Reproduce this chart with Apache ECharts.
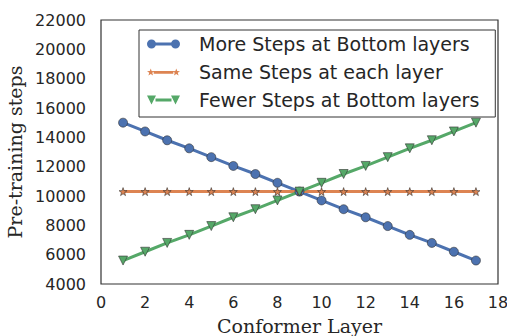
<!DOCTYPE html>
<html>
<head>
<meta charset="utf-8">
<script src="https://cdn.jsdelivr.net/npm/echarts@6/dist/echarts.min.js"></script>
<style>
  html, body { margin: 0; padding: 0; background: #fff; }
  #chart { width: 507px; height: 336px; }
</style>
</head>
<body>
<div id="chart"></div>
<script>
// layer index and pre-training steps per layer
var layers = [1, 2, 3, 4, 5, 6, 7, 8, 9, 10, 11, 12, 13, 14, 15, 16, 17];
var moreSteps = [15000, 14400, 13800, 13250, 12650, 12050, 11500, 10900, 10300, 9700, 9100, 8550, 7950, 7350, 6800, 6200, 5600];
var sameSteps = [10300, 10300, 10300, 10300, 10300, 10300, 10300, 10300, 10300, 10300, 10300, 10300, 10300, 10300, 10300, 10300, 10300];
var fewerSteps = [5600, 6200, 6800, 7350, 7950, 8550, 9100, 9700, 10300, 10900, 11500, 12050, 12650, 13250, 13800, 14400, 15000];
var seriesNames = ['More Steps at Bottom layers', 'Same Steps at each layer', 'Fewer Steps at Bottom layers'];

(function() {
  var ink = '#262626';
  var blue = '#4C72B0', orange = '#DD8452', green = '#55A868';
  var star = 'path://M50,0 L61.8,35.1 L97.6,34.5 L69.1,56.9 L79.4,90.5 L50,70 L20.6,90.5 L30.9,56.9 L2.4,34.5 L38.2,35.1 Z';

  // legend icons: marker at both ends of a short line, like matplotlib
  var bar = 'M9,3.6 L25,3.6 L25,6.4 L9,6.4 Z ';
  var iconCircle = 'path://M0.5,5 A4.5,4.5 0 1,1 9.5,5 A4.5,4.5 0 1,1 0.5,5 Z ' +
    'M24.5,5 A4.5,4.5 0 1,1 33.5,5 A4.5,4.5 0 1,1 24.5,5 Z ' + bar;
  var iconStar = 'path://M4,1 L4.94,3.71 L7.8,3.76 L5.52,5.49 L6.35,8.24 L4,6.6 L1.65,8.24 L2.48,5.49 L0.2,3.76 L3.06,3.71 Z ' +
    'M30,1 L30.94,3.71 L33.8,3.76 L31.52,5.49 L32.35,8.24 L30,6.6 L27.65,8.24 L28.48,5.49 L26.2,3.76 L29.06,3.71 Z ' +
    'M7,3.6 L27,3.6 L27,6.4 L7,6.4 Z';
  var iconTri = 'path://M0.5,0.5 L9.5,0.5 L5,9.5 Z M24.5,0.5 L33.5,0.5 L29,9.5 Z ' + bar;

  function pairs(ys) {
    return layers.map(function(x, i) { return [x, ys[i]]; });
  }

  function line(name, ys, color, symbol, size, rotate) {
    return {
      name: name,
      type: 'line',
      data: pairs(ys),
      symbol: symbol,
      symbolSize: size,
      symbolRotate: rotate || 0,
      showAllSymbol: true,
      lineStyle: { color: color, width: 3 },
      itemStyle: { color: color, borderColor: '#333', borderWidth: 0.6 },
      emphasis: { disabled: true }
    };
  }

  var chart = echarts.init(document.getElementById('chart'), null, { renderer: 'svg' });
  chart.setOption({
    animation: false,
    grid: {
      left: 101, right: 9, top: 20, bottom: 52,
      outerBoundsMode: 'none',
      show: true, borderColor: '#333', borderWidth: 1.2
    },
    legend: {
      orient: 'vertical',
      left: 139, top: 30,
      padding: [4, 16, 7, 8],
      itemGap: 8,
      itemWidth: 33, itemHeight: 10,
      borderColor: '#333', borderWidth: 1,
      backgroundColor: '#fff',
      itemStyle: { borderWidth: 0 },
      textStyle: { color: ink, fontSize: 19, lineHeight: 20, fontFamily: 'DejaVu Sans', padding: [0, 0, 0, 14] },
      data: [
        { name: seriesNames[0], icon: iconCircle },
        { name: seriesNames[1], icon: iconStar },
        { name: seriesNames[2], icon: iconTri }
      ]
    },
    xAxis: {
      type: 'value',
      min: 0, max: 18, interval: 2,
      name: 'Conformer Layer',
      nameLocation: 'middle',
      nameGap: 32,
      nameTextStyle: { color: ink, fontSize: 19, fontFamily: 'DejaVu Serif' },
      axisLine: { show: false },
      axisTick: { show: false },
      splitLine: { show: false },
      axisLabel: { color: ink, fontSize: 16, fontFamily: 'DejaVu Sans', margin: 10 }
    },
    yAxis: {
      type: 'value',
      min: 4000, max: 22000, interval: 2000,
      name: 'Pre-training steps',
      nameLocation: 'middle',
      nameGap: 69,
      nameTextStyle: { color: ink, fontSize: 19, fontFamily: 'DejaVu Serif' },
      axisLine: { show: false },
      axisTick: { show: false },
      splitLine: { show: false },
      axisLabel: { color: ink, fontSize: 16, fontFamily: 'DejaVu Sans', margin: 15, formatter: function(v) { return String(v); } }
    },
    series: [
      line(seriesNames[0], moreSteps, blue, 'circle', 9),
      line(seriesNames[1], sameSteps, orange, star, 8),
      line(seriesNames[2], fewerSteps, green, 'triangle', 9, 180)
    ]
  });
})();
</script>
</body>
</html>
